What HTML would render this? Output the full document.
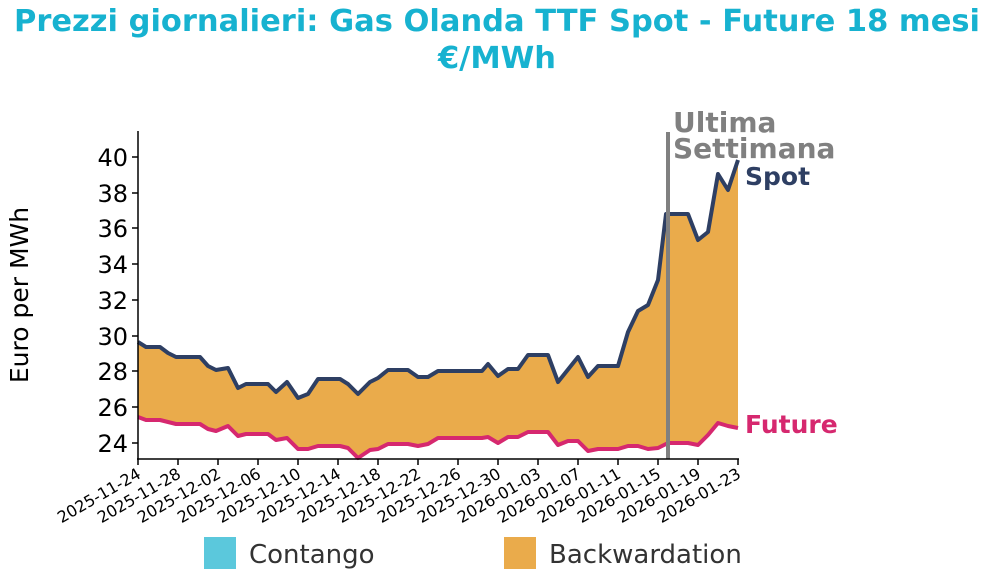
<!DOCTYPE html>
<html><head><meta charset="utf-8"><style>
body{margin:0;background:#fff;width:990px;height:579px;overflow:hidden;font-family:"DejaVu Sans","Liberation Sans",sans-serif}
</style></head><body>
<svg width="990" height="579" viewBox="0 0 990 579" xmlns="http://www.w3.org/2000/svg" font-family="DejaVu Sans, Liberation Sans, sans-serif">
<text x="497" y="31" text-anchor="middle" font-size="30.5" font-weight="bold" fill="#17b2d0">Prezzi giornalieri: Gas Olanda TTF Spot - Future 18 mesi</text>
<text x="497" y="68" text-anchor="middle" font-size="30.5" font-weight="bold" fill="#17b2d0">€/MWh</text>
<polygon fill="#eaab4b" points="138,342 146,347 160,347 168,353 176,357 200,357 208,366 216,370 228,368 238,388 246,384 268,384 276,392 287,382 298,398 308,394 318,379 340,379 348,384 358,394 370,382 378,378 388,370 408,370 418,377 428,377 438,371 482,371 488,364 498,376 508,369 518,369 528,355 548,355 558,382 578,357 588,377 598,366 618,366 628,332 638,311 648,305 658,280 666,214 688,214 698,240 708,232 718,174 728,190 738,160 738,428 728,426 718,423 708,435 698,445 688,443 668,443 658,448 648,449 638,446 628,446 618,449 598,449 588,451 578,441 568,441 558,445 548,432 528,432 518,437 508,437 498,443 488,437 482,438 438,438 428,444 418,446 408,444 388,444 378,449 370,450 358,458 348,448 340,446 318,446 308,449 298,449 287,438 276,440 268,434 246,434 238,436 228,426 216,431 208,429 200,424 176,424 168,422 160,420 146,420 138,417"/>
<polyline fill="none" stroke="#2e3f63" stroke-width="4" stroke-linejoin="round" points="138,342 146,347 160,347 168,353 176,357 200,357 208,366 216,370 228,368 238,388 246,384 268,384 276,392 287,382 298,398 308,394 318,379 340,379 348,384 358,394 370,382 378,378 388,370 408,370 418,377 428,377 438,371 482,371 488,364 498,376 508,369 518,369 528,355 548,355 558,382 578,357 588,377 598,366 618,366 628,332 638,311 648,305 658,280 666,214 688,214 698,240 708,232 718,174 728,190 738,160"/>
<polyline fill="none" stroke="#d6286f" stroke-width="4" stroke-linejoin="round" points="138,417 146,420 160,420 168,422 176,424 200,424 208,429 216,431 228,426 238,436 246,434 268,434 276,440 287,438 298,449 308,449 318,446 340,446 348,448 358,458 370,450 378,449 388,444 408,444 418,446 428,444 438,438 482,438 488,437 498,443 508,437 518,437 528,432 548,432 558,445 568,441 578,441 588,451 598,449 618,449 628,446 638,446 648,449 658,448 668,443 688,443 698,445 708,435 718,423 728,426 738,428"/>
<line x1="668" y1="132" x2="668" y2="459" stroke="#808080" stroke-width="4"/>
<text x="673" y="132" font-size="28" font-weight="bold" fill="#808080">Ultima</text>
<text x="673" y="158" font-size="28" font-weight="bold" fill="#808080">Settimana</text>
<text x="745" y="185" font-size="25" font-weight="bold" fill="#2e3f63">Spot</text>
<text x="745" y="433" font-size="25" font-weight="bold" fill="#d6286f">Future</text>
<g stroke="#000" stroke-width="1.5">
<line x1="138" y1="131" x2="138" y2="459"/>
<line x1="137" y1="459" x2="739" y2="459"/>
<line x1="132" y1="157" x2="138" y2="157"/><line x1="132" y1="193" x2="138" y2="193"/><line x1="132" y1="228" x2="138" y2="228"/><line x1="132" y1="264" x2="138" y2="264"/><line x1="132" y1="300" x2="138" y2="300"/><line x1="132" y1="336" x2="138" y2="336"/><line x1="132" y1="371" x2="138" y2="371"/><line x1="132" y1="407" x2="138" y2="407"/><line x1="132" y1="443" x2="138" y2="443"/>
<line x1="138" y1="459" x2="138" y2="465"/><line x1="178" y1="459" x2="178" y2="465"/><line x1="218" y1="459" x2="218" y2="465"/><line x1="258" y1="459" x2="258" y2="465"/><line x1="298" y1="459" x2="298" y2="465"/><line x1="338" y1="459" x2="338" y2="465"/><line x1="378" y1="459" x2="378" y2="465"/><line x1="418" y1="459" x2="418" y2="465"/><line x1="458" y1="459" x2="458" y2="465"/><line x1="498" y1="459" x2="498" y2="465"/><line x1="538" y1="459" x2="538" y2="465"/><line x1="578" y1="459" x2="578" y2="465"/><line x1="618" y1="459" x2="618" y2="465"/><line x1="658" y1="459" x2="658" y2="465"/><line x1="698" y1="459" x2="698" y2="465"/><line x1="738" y1="459" x2="738" y2="465"/>
</g>
<g font-size="24" text-anchor="end" fill="#000">
<text x="128" y="166">40</text><text x="128" y="202">38</text><text x="128" y="237">36</text><text x="128" y="273">34</text><text x="128" y="309">32</text><text x="128" y="345">30</text><text x="128" y="380">28</text><text x="128" y="416">26</text><text x="128" y="452">24</text>
</g>
<text transform="translate(28,295) rotate(-90)" text-anchor="middle" font-size="25">Euro per MWh</text>
<g font-size="16" text-anchor="end">
<text transform="translate(142,477) rotate(-30)">2025-11-24</text>
<text transform="translate(182,477) rotate(-30)">2025-11-28</text>
<text transform="translate(222,477) rotate(-30)">2025-12-02</text>
<text transform="translate(262,477) rotate(-30)">2025-12-06</text>
<text transform="translate(302,477) rotate(-30)">2025-12-10</text>
<text transform="translate(342,477) rotate(-30)">2025-12-14</text>
<text transform="translate(382,477) rotate(-30)">2025-12-18</text>
<text transform="translate(422,477) rotate(-30)">2025-12-22</text>
<text transform="translate(462,477) rotate(-30)">2025-12-26</text>
<text transform="translate(502,477) rotate(-30)">2025-12-30</text>
<text transform="translate(542,477) rotate(-30)">2026-01-03</text>
<text transform="translate(582,477) rotate(-30)">2026-01-07</text>
<text transform="translate(622,477) rotate(-30)">2026-01-11</text>
<text transform="translate(662,477) rotate(-30)">2026-01-15</text>
<text transform="translate(702,477) rotate(-30)">2026-01-19</text>
<text transform="translate(742,477) rotate(-30)">2026-01-23</text>
</g>
<rect x="204" y="537" width="32" height="32" fill="#5bc8dc"/>
<text x="249" y="563" font-size="26" fill="#333">Contango</text>
<rect x="504" y="537" width="32" height="32" fill="#eaab4b"/>
<text x="549" y="563" font-size="26" fill="#333">Backwardation</text>
</svg>
</body></html>
